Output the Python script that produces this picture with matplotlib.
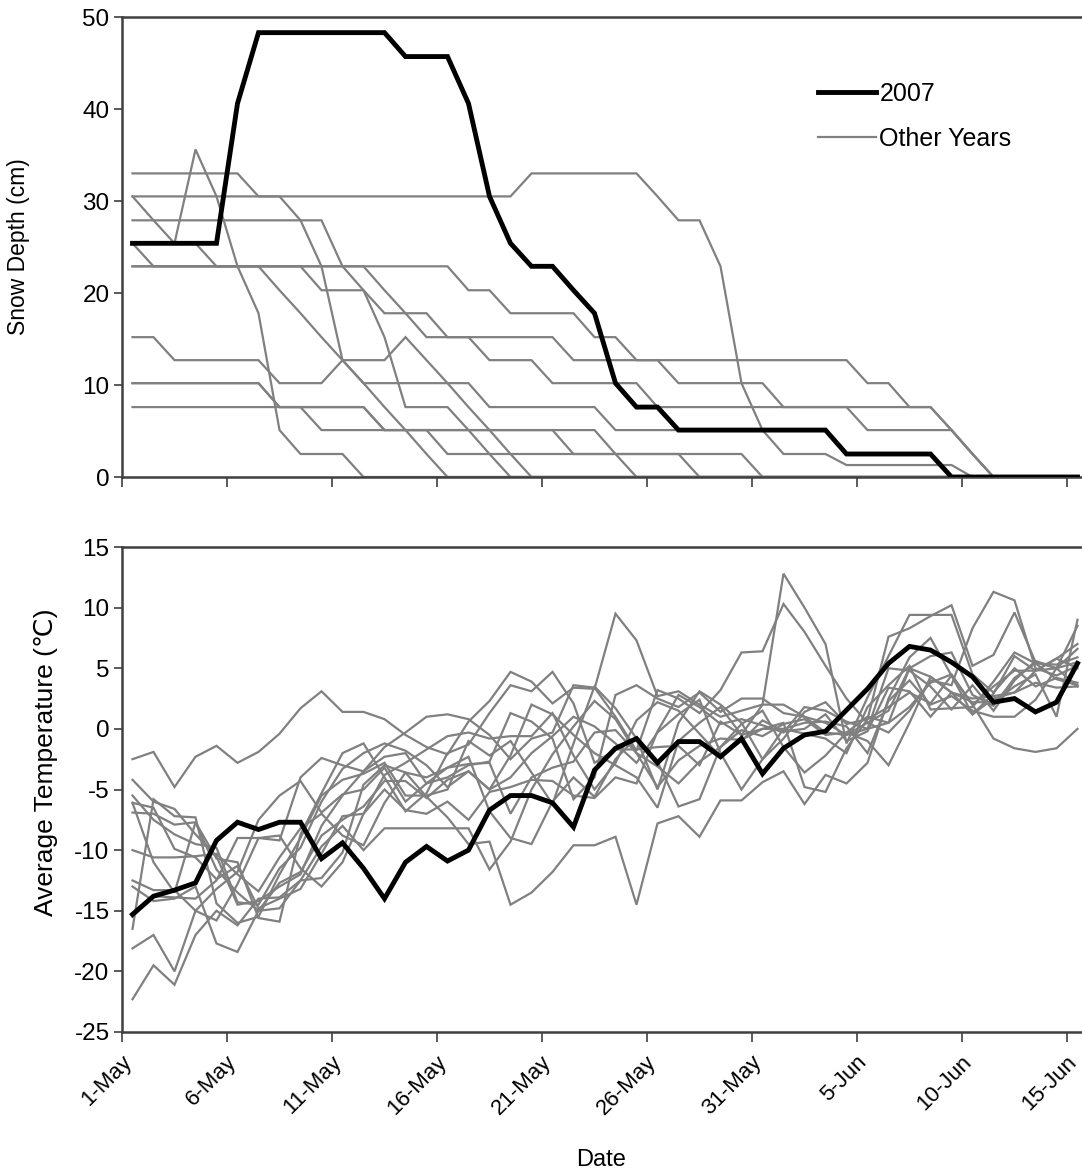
import matplotlib
matplotlib.use("Agg")
import matplotlib.pyplot as plt
import matplotlib.transforms as mtransforms
from matplotlib.lines import Line2D
import numpy as np

plt.rcParams['font.family'] = ['Liberation Sans', 'DejaVu Sans']
plt.rcParams['axes.unicode_minus'] = False

# ---------------- data ----------------
dates = ["1-May", "2-May", "3-May", "4-May", "5-May", "6-May", "7-May", "8-May", "9-May", "10-May",
         "11-May", "12-May", "13-May", "14-May", "15-May", "16-May", "17-May", "18-May", "19-May", "20-May",
         "21-May", "22-May", "23-May", "24-May", "25-May", "26-May", "27-May", "28-May", "29-May", "30-May",
         "31-May", "1-Jun", "2-Jun", "3-Jun", "4-Jun", "5-Jun", "6-Jun", "7-Jun", "8-Jun", "9-Jun",
         "10-Jun", "11-Jun", "12-Jun", "13-Jun", "14-Jun", "15-Jun"]

snow_2007 = [25.4, 25.4, 25.4, 25.4, 25.4, 40.6, 48.3, 48.3, 48.3, 48.3, 48.3, 48.3, 48.3, 45.7, 45.7, 45.7,
             40.6, 30.5, 25.4, 22.9, 22.9, 20.3, 17.8, 10.2, 7.6, 7.6, 5.1, 5.1, 5.1, 5.1, 5.1, 5.1, 5.1, 5.1,
             2.5, 2.5, 2.5, 2.5, 2.5, 0, 0, 0, 0, 0, 0, 0]

snow_other = [
    [33.0, 33.0, 33.0, 33.0, 33.0, 33.0, 30.5, 30.5, 27.9, 27.9, 22.9, 20.3, 15.2, 7.6, 7.6, 7.6, 5.1, 2.5,
     0, 0, 0, 0, 0, 0, 0, 0, 0, 0, 0, 0, 0, 0, 0, 0, 0, 0, 0, 0, 0, 0, 0, 0, 0, 0, 0, 0],
    [30.5, 30.5, 30.5, 30.5, 30.5, 30.5, 30.5, 30.5, 30.5, 30.5, 30.5, 30.5, 30.5, 30.5, 30.5, 30.5, 30.5, 30.5,
     30.5, 33.0, 33.0, 33.0, 33.0, 33.0, 33.0, 30.5, 27.9, 27.9, 22.9, 10.2, 5.1, 2.5, 2.5, 2.5, 1.3, 1.3,
     1.3, 1.3, 1.3, 1.3, 0, 0, 0, 0, 0, 0],
    [30.5, 27.9, 25.4, 35.6, 30.5, 22.9, 17.8, 5.1, 2.5, 2.5, 2.5, 0, 0, 0, 0, 0, 0, 0, 0, 0, 0, 0, 0, 0, 0, 0,
     0, 0, 0, 0, 0, 0, 0, 0, 0, 0, 0, 0, 0, 0, 0, 0, 0, 0, 0, 0],
    [27.9, 27.9, 27.9, 27.9, 27.9, 27.9, 27.9, 27.9, 27.9, 22.9, 12.7, 12.7, 12.7, 15.2, 12.7, 10.2, 7.6, 5.1,
     2.5, 0, 0, 0, 0, 0, 0, 0, 0, 0, 0, 0, 0, 0, 0, 0, 0, 0, 0, 0, 0, 0, 0, 0, 0, 0, 0, 0],
    [25.4, 22.9, 22.9, 22.9, 22.9, 22.9, 22.9, 22.9, 22.9, 22.9, 22.9, 22.9, 22.9, 22.9, 22.9, 22.9, 20.3, 20.3,
     17.8, 17.8, 17.8, 17.8, 15.2, 15.2, 12.7, 12.7, 12.7, 12.7, 12.7, 12.7, 12.7, 12.7, 12.7, 12.7, 12.7,
     10.2, 10.2, 7.6, 7.6, 5.1, 2.5, 0, 0, 0, 0, 0],
    [22.9, 22.9, 22.9, 22.9, 22.9, 22.9, 22.9, 22.9, 22.9, 20.3, 20.3, 20.3, 17.8, 17.8, 17.8, 15.2, 15.2, 15.2,
     15.2, 15.2, 15.2, 12.7, 12.7, 12.7, 12.7, 12.7, 10.2, 10.2, 10.2, 10.2, 10.2, 7.6, 7.6, 7.6, 7.6, 5.1,
     5.1, 5.1, 5.1, 5.1, 2.5, 0, 0, 0, 0, 0],
    [25.4, 25.4, 25.4, 25.4, 22.9, 22.9, 22.9, 22.9, 22.9, 22.9, 22.9, 22.9, 20.3, 17.8, 15.2, 15.2, 15.2, 12.7,
     12.7, 12.7, 10.2, 10.2, 10.2, 10.2, 10.2, 7.6, 7.6, 7.6, 7.6, 7.6, 7.6, 7.6, 7.6, 7.6, 7.6, 7.6, 7.6, 7.6,
     7.6, 5.1, 2.5, 0, 0, 0, 0, 0],
    [22.9, 22.9, 22.9, 22.9, 22.9, 22.9, 22.9, 20.3, 17.8, 15.2, 12.7, 10.2, 7.6, 5.1, 2.5, 0, 0, 0, 0, 0, 0, 0,
     0, 0, 0, 0, 0, 0, 0, 0, 0, 0, 0, 0, 0, 0, 0, 0, 0, 0, 0, 0, 0, 0, 0, 0],
    [15.2, 15.2, 12.7, 12.7, 12.7, 12.7, 12.7, 10.2, 10.2, 10.2, 12.7, 10.2, 10.2, 10.2, 10.2, 10.2, 10.2, 7.6,
     7.6, 7.6, 7.6, 7.6, 7.6, 5.1, 5.1, 5.1, 5.1, 5.1, 5.1, 5.1, 5.1, 5.1, 5.1, 5.1, 2.5, 2.5, 2.5, 2.5, 2.5,
     0, 0, 0, 0, 0, 0, 0],
    [10.2, 10.2, 10.2, 10.2, 10.2, 10.2, 10.2, 7.6, 7.6, 7.6, 7.6, 7.6, 5.1, 5.1, 5.1, 5.1, 5.1, 5.1, 5.1, 5.1,
     5.1, 2.5, 2.5, 2.5, 2.5, 2.5, 2.5, 0, 0, 0, 0, 0, 0, 0, 0, 0, 0, 0, 0, 0, 0, 0, 0, 0, 0, 0],
    [7.6, 7.6, 7.6, 7.6, 7.6, 7.6, 7.6, 7.6, 7.6, 7.6, 7.6, 7.6, 5.1, 5.1, 5.1, 5.1, 5.1, 5.1, 5.1, 5.1, 5.1,
     5.1, 5.1, 2.5, 0, 0, 0, 0, 0, 0, 0, 0, 0, 0, 0, 0, 0, 0, 0, 0, 0, 0, 0, 0, 0, 0],
    [10.2, 10.2, 10.2, 10.2, 10.2, 10.2, 10.2, 7.6, 7.6, 5.1, 5.1, 5.1, 5.1, 5.1, 5.1, 2.5, 2.5, 2.5, 2.5, 2.5,
     2.5, 2.5, 2.5, 2.5, 2.5, 2.5, 2.5, 2.5, 2.5, 2.5, 0, 0, 0, 0, 0, 0, 0, 0, 0, 0, 0, 0, 0, 0, 0, 0],
]

temp_2007 = [-15.3, -13.8, -13.3, -12.7, -9.2, -7.7, -8.3, -7.7, -7.7, -10.7, -9.4, -11.5, -14.0, -11.0, -9.7,
             -10.9, -10.0, -6.7, -5.5, -5.5, -6.1, -8.1, -3.4, -1.6, -0.8, -2.8, -1.05, -1.05, -2.3, -0.8, -3.7,
             -1.6, -0.5, -0.2, 1.55, 3.3, 5.4, 6.8, 6.5, 5.5, 4.3, 2.2, 2.5, 1.4, 2.2, 5.4]

temp_other = [
    [-2.5, -1.9, -4.8, -2.3, -1.4, -2.8, -1.9, -0.4, 1.7, 3.1, 1.4, 1.4, 0.8, -0.5, -1.5, -2.1, 0.6, 2.3, 4.7,
     3.9, 2.1, 3.4, 3.3, 9.5, 7.3, 2.7, 3.1, 2.0, 1.0, 1.5, 2.0, 12.8, 10.0, 7.0, -1.2, 2.6, 6.0, 9.4, 9.4,
     9.4, 4.5, 3.0, 5.0, 3.5, 4.2, 3.8],
    [-4.2, -6.0, -6.6, -8.7, -10.5, -14.5, -14.2, -13.0, -12.0, -8.0, -5.5, -3.5, -1.5, -0.3, 1.0, 1.2, 0.8,
     -0.5, -2.5, -0.8, -0.3, 3.6, 3.4, 1.0, -1.8, 3.2, 2.5, 1.3, 3.2, 6.3, 6.4, 10.3, 8.0, 5.2, 2.5, 0.5, -0.3,
     1.5, 4.0, 3.6, 8.3, 11.3, 10.6, 5.0, 4.4, 5.2],
    [-5.5, -7.5, -8.7, -9.5, -9.8, -14.3, -14.5, -11.5, -9.8, -6.0, -3.3, -2.0, -1.2, -1.8, -3.0, -4.8, -3.5,
     -5.0, -2.2, 2.0, 1.2, -0.5, -2.0, -3.0, -4.0, -6.5, -1.0, 0.5, 1.8, -0.5, 2.0, 2.0, 1.0, 0.5, -0.5, 0.5,
     1.5, 5.0, 6.0, 6.3, 2.8, 1.9, 4.2, 5.4, 5.3, 5.9],
    [-6.1, -6.5, -9.9, -10.6, -12.4, -11.3, -14.8, -14.0, -13.2, -10.3, -7.2, -7.0, -3.8, -2.8, -1.7, -0.6,
     -0.3, -0.8, -0.6, -0.6, 1.3, -2.2, -5.0, -2.8, 0.7, 2.2, 1.5, -0.4, -2.3, -1.0, 0.7, -0.2, 0.0, 1.2,
     -1.0, -0.2, 3.4, 3.1, 1.0, 3.0, 2.5, 2.7, 3.0, 3.8, 3.4, 3.5],
    [-6.9, -7.0, -7.9, -7.7, -11.6, -13.5, -15.0, -12.7, -11.8, -8.8, -7.5, -6.4, -4.3, -4.3, -5.7, -4.2,
     -3.5, -5.0, -4.0, -2.0, -0.6, 1.0, 0.2, -1.2, -2.8, -0.3, 1.2, 2.4, -2.0, -5.0, -2.5, 0.0, 0.5, 0.6,
     0.2, -2.0, 2.3, 4.0, 2.0, 2.7, 1.5, 1.0, 1.0, 2.4, 5.0, 6.6],
    [-10.0, -10.6, -10.6, -10.5, -10.3, -12.0, -13.4, -10.6, -8.2, -7.0, -8.8, -9.6, -6.1, -3.6, -4.0, -3.2,
     -2.9, -2.8, -7.0, -4.0, -3.2, -2.7, -0.3, -0.1, -2.0, -3.1, -4.5, -2.7, -1.5, -0.1, -0.6, 0.4, 0.8,
     -0.5, -0.3, 1.0, 0.5, 1.8, 3.8, 4.5, 2.0, 3.5, 4.8, 4.8, 5.8, 7.0],
    [-12.5, -13.3, -13.3, -15.0, -15.8, -12.8, -9.0, -8.8, -11.5, -13.0, -11.0, -7.0, -5.0, -6.7, -7.0, -6.0,
     -7.5, -5.2, -4.8, -4.2, -4.3, -5.5, -5.7, -4.0, -4.5, -0.2, 2.8, 1.8, 0.4, 0.8, 0.3, -0.3, 1.8, 1.5,
     0.6, 0.0, 0.5, 5.0, 4.3, 3.0, 1.2, 2.5, 3.0, 4.8, 5.0, 5.5],
    [-13.0, -14.2, -14.0, -13.0, -17.7, -18.4, -15.0, -14.8, -12.5, -9.7, -8.0, -10.0, -8.2, -8.2, -8.2, -8.2,
     -8.2, -11.6, -9.3, -5.0, -2.1, 0.2, 2.3, 0.8, -2.0, -4.8, -2.6, -1.4, -0.8, -0.9, 0.0, 0.0, -0.4, -0.8,
     -2.0, 1.8, 3.6, 5.2, 1.6, 1.7, 1.8, 3.9, 6.3, 5.4, 4.1, 3.6],
    [-16.5, -5.8, -7.2, -7.3, -14.4, -16.0, -15.5, -12.0, -9.0, -5.5, -4.2, -3.7, -2.8, -5.5, -5.5, -5.0, -1.0,
     -2.2, -1.0, -3.6, -6.2, -1.2, 3.5, 1.7, -0.8, -5.0, 0.5, 3.1, 2.0, 0.5, -2.5, -0.8, 1.4, 2.2, 0.4, 0.8,
     1.8, 3.0, 2.1, 4.4, 1.2, 2.9, 6.0, 4.8, 5.8, 5.0],
    [-18.1, -17.0, -20.0, -15.0, -13.2, -11.8, -7.5, -5.5, -4.3, -6.9, -5.4, -5.0, -3.2, -6.0, -4.5, -3.2,
     -2.3, -6.8, -9.0, -9.5, -6.0, -4.0, -5.6, -2.5, -0.7, -2.7, -6.4, -5.8, -1.5, 0.4, 1.5, -1.5, -3.6, -2.2,
     -0.3, -1.0, -3.0, 0.5, 4.3, 3.0, 2.2, 2.2, 3.5, 4.5, 1.0, 9.0],
    [-22.3, -19.5, -21.1, -17.0, -15.0, -16.2, -14.0, -13.9, -12.5, -12.3, -10.2, -4.6, -3.0, -3.6, -5.6,
     -7.3, -9.5, -9.3, -14.5, -13.5, -11.8, -9.6, -9.6, -8.9, -14.5, -7.8, -7.2, -8.9, -5.9, -5.9, -4.4, -3.5,
     -6.2, -3.8, -4.5, -2.8, 2.5, 5.9, 7.5, 4.4, 2.0, -0.8, -1.6, -1.9, -1.6, 0.0],
    [-15.5, -13.8, -13.9, -14.0, -12.5, -9.0, -9.0, -9.2, -4.0, -2.4, -3.0, -3.5, -2.3, -2.0, -4.5, -4.0, -3.0,
     -2.7, 1.3, 0.6, -0.8, -5.8, -4.0, 2.8, 3.6, 2.5, 1.8, 3.0, 1.4, 2.5, 2.5, 1.3, 1.0, -0.3, -0.5, 0.0, 5.0,
     4.8, 3.5, 1.6, 3.6, 1.5, 4.0, 5.6, 5.0, 3.5],
    [-6.1, -11.0, -13.5, -7.7, -10.7, -11.0, -15.6, -15.9, -8.7, -5.3, -2.0, -1.2, -4.0, -6.8, -5.3, -2.0,
     -1.3, 1.3, 3.6, 3.1, 4.7, 2.1, -2.8, -1.7, -1.7, -1.5, -1.4, -3.0, 0.6, -0.5, 0.0, 0.5, -4.8, -5.2, -1.6,
     0.8, 7.6, 8.3, 9.3, 10.2, 5.2, 6.1, 9.6, 5.5, 5.0, 8.5],
]

snow_ticks = [0, 10, 20, 30, 40, 50]
temp_ticks = [-25, -20, -15, -10, -5, 0, 5, 10, 15]
label_every = 5

# ---------------- figure ----------------
W, H = 1082, 1173
fig = plt.figure(figsize=(W / 100, H / 100), dpi=100)

left = 122 / W
right = 1088 / W
ax1 = fig.add_axes([left, 1 - 477 / H, right - left, (477 - 17) / H])
ax2 = fig.add_axes([left, 1 - 1032 / H, right - left, (1032 - 547) / H])

x = np.arange(len(dates))
gray = '#808080'
spine_c = '#404040'

for s in snow_other:
    ax1.plot(x, s, color=gray, lw=1.6, solid_joinstyle='miter', zorder=2)
ax1.plot(x, snow_2007, color='black', lw=3.5, solid_joinstyle='miter', zorder=3)

for t in temp_other:
    ax2.plot(x, t, color=gray, lw=1.6, solid_joinstyle='miter', zorder=2)
ax2.plot(x, temp_2007, color='black', lw=3.5, solid_joinstyle='miter', zorder=3)

for ax in (ax1, ax2):
    ax.set_xlim(-0.5, len(dates) - 0.5)
    ax.set_xticks(np.arange(0, len(dates), label_every) - 0.5)
    ax.set_xticklabels([])
    for sp in ax.spines.values():
        sp.set_color(spine_c)
        sp.set_linewidth(1.8)
    ax.tick_params(axis='both', direction='out', length=6, width=1.2, color=spine_c,
                   labelsize=17.5, pad=3)
    ax.tick_params(axis='x', length=7)

ax1.set_ylim(0, 50)
ax1.set_yticks(snow_ticks)
ax2.set_ylim(-25, 15)
ax2.set_yticks(temp_ticks)

fig.text(19 / W, 1 - 247 / H, 'Snow Depth (cm)', rotation=90, ha='center', va='center', fontsize=16.5)
fig.text(46 / W, 1 - 762 / H, 'Average Temperature (\u2103)', rotation=90, ha='center', va='center',
         fontsize=19)

# rotated date labels
trans = mtransforms.blended_transform_factory(ax2.transData, ax2.transAxes)
for i in range(0, len(dates), label_every):
    ax2.text(i - 0.2, -0.055, dates[i], rotation=45, ha='right', va='center',
             rotation_mode='anchor', fontsize=16, transform=trans)

fig.text(601 / W, 1 - 1160 / H, 'Date', ha='center', va='center', fontsize=17)

# legend
handles = [Line2D([], [], color='black', lw=3.5), Line2D([], [], color=gray, lw=1.6)]
ax1.legend(handles, ['2007', 'Other Years'], loc='upper left', bbox_to_anchor=(0.7205, 0.859),
           frameon=False, fontsize=18, handlelength=2.3, handletextpad=0.15, labelspacing=0.85,
           borderaxespad=0, borderpad=0)

fig.savefig('out.png', dpi=100)
